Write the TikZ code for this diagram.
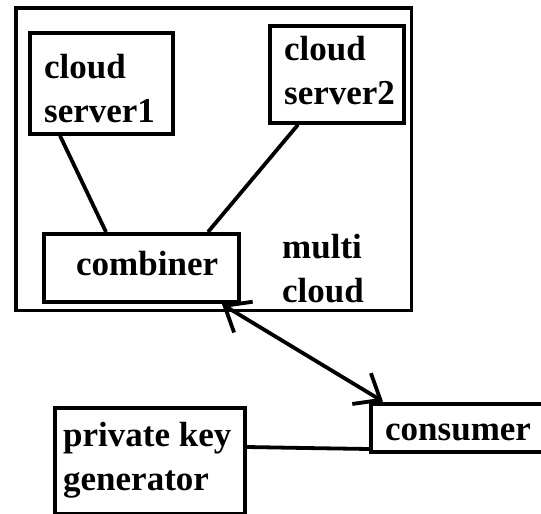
\documentclass[tikz,border=0pt]{standalone}
\usepackage{fontspec}
\setmainfont{Liberation Serif}
\usetikzlibrary{arrows.meta}
\begin{document}
\begin{tikzpicture}[x=1pt,y=-1pt,
  box/.style={draw=black,line width=4.2pt,inner sep=0pt},
  frame/.style={draw=black,line width=3.8pt},
  lbl/.style={inner sep=0pt,align=left,anchor=base west,
    font=\fontsize{35}{43.5}\selectfont\bfseries},
  conn/.style={line width=3.8pt},
  twoway/.style={line width=3.8pt,
    {Straight Barb[length=22pt,width=36pt,line width=3.8pt]}-{Straight Barb[length=22pt,width=36pt,line width=3.8pt]}}]
  \useasboundingbox (0,0) rectangle (541,514);
  \fill[white] (0,0) rectangle (541,514);

  % multi cloud frame
  \draw[frame] (16,8) rectangle (411.5,310.5);
  \node[lbl] (mc) at (282,302) {multi\\cloud};

  % boxes (label anchors sit on the last baseline)
  \node[box,minimum width=142.5pt,minimum height=100.5pt,anchor=north west] (s1) at (28,31) {};
  \node[lbl] (t1) at (44,122) {cloud\\server1};
  \node[box,minimum width=133.5pt,minimum height=96.5pt,anchor=north west] (s2) at (268,24) {};
  \node[lbl] (t2) at (284,104) {cloud\\server2};
  \node[box,minimum width=194.5pt,minimum height=68pt,anchor=north west] (comb) at (42,232) {};
  \node[lbl] (t3) at (76,275) {combiner};
  \node[box,minimum width=220pt,minimum height=48pt,anchor=north west] (cons) at (369,401.5) {};
  \node[lbl] (t4) at (385,440) {consumer};
  \node[box,minimum width=189.5pt,minimum height=106pt,anchor=north west] (pkg) at (53,405.5) {};
  \node[lbl] (t5) at (63,490) {private key\\generator};

  % connectors
  \draw[conn] (s1.south west -| 60,0) -- (comb.north west -| 106,0);
  \draw[conn] (s2.south west -| 298,0) -- (comb.north west -| 208,0);
  \draw[twoway] (comb.south west -| 222,0) -- (cons.north west -| 383,0);
  \coordinate (bend) at (305,448);
  \draw[conn] (pkg.east |- 0,447) -- (bend) -- (cons.west |- 0,449);
\end{tikzpicture}
\end{document}
